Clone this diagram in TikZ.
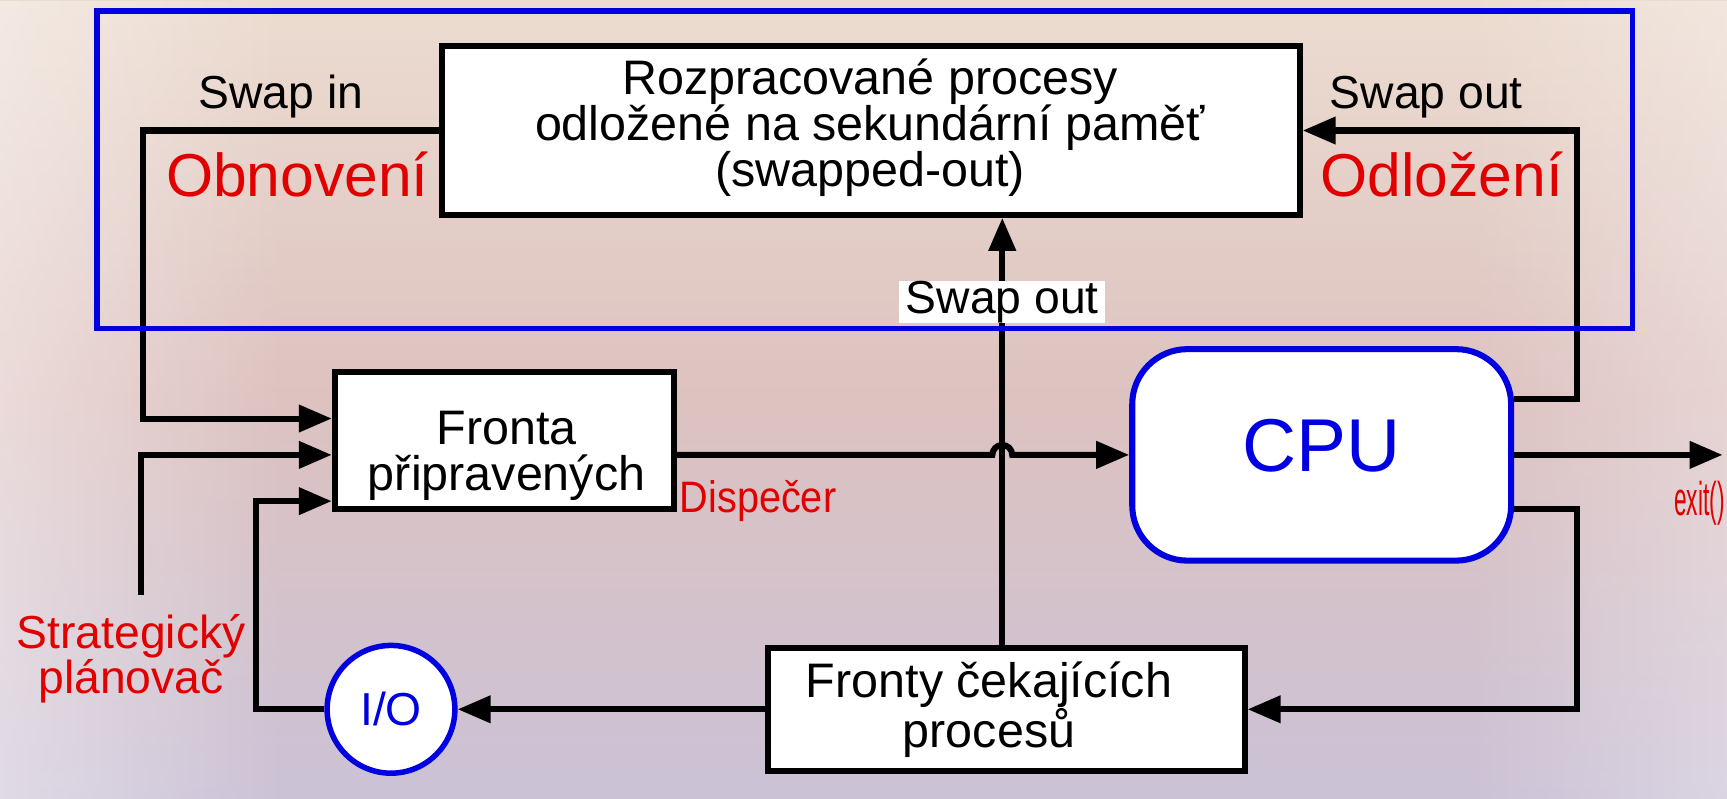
\documentclass[tikz,border=0pt]{standalone}
\usepackage{fontspec}
\setmainfont{Liberation Sans}
\usetikzlibrary{arrows.meta,fadings}
\definecolor{myred}{RGB}{225,0,0}
\definecolor{myblue}{RGB}{0,0,225}
\definecolor{bgtop}{RGB}{236,220,208}
\definecolor{bgmid}{RGB}{221,194,192}
\definecolor{bgbot}{RGB}{203,194,214}
\begin{document}
\begin{tikzpicture}[x=1pt,y=-1pt,
  arr/.style={line width=5.5pt,-{Triangle[length=30pt,width=24pt]}},
  boxshape/.style={draw=black,line width=5.5pt,fill=white,inner sep=0pt},
  boxtext/.style={inner sep=0pt,align=center,font=\fontsize{44}{42}\selectfont},
  lbl/.style={inner sep=0pt,font=\fontsize{42}{44}\selectfont},
  bigred/.style={inner sep=0pt,text=myred,font=\fontsize{55}{60}\selectfont},
  smallred/.style={inner sep=0pt,text=myred,align=center,font=\fontsize{40}{38}\selectfont},
]
\useasboundingbox (0,0) rectangle (1568,725);
\shade[top color=bgtop, bottom color=bgbot, middle color=bgmid] (0,0) rectangle (1568,725);
\fill[white,opacity=0.4,path fading=east] (0,0) rectangle (260,725);
\fill[white,opacity=0.3,path fading=west] (1330,0) rectangle (1568,725);

% boxes
\node[boxshape,minimum width=779pt,minimum height=153pt] (top) at (790.5,118.5) {};
\node[boxtext] (toptext) at (790,116) {Rozpracované procesy\\odložené na sekundární paměť\\(swapped-out)};
\node[boxshape,minimum width=308pt,minimum height=124pt] (fronta) at (458,400) {};
\node[boxtext] (frontatext) at (460,414) {Fronta\\připravených};
\node[boxshape,draw=myblue,rounded corners=50pt,minimum width=344pt,minimum height=192pt] (cpu) at (1200,413) {};
\node[inner sep=0pt,text=myblue,font=\fontsize{68}{70}\selectfont] (cputext) at (1200,405) {CPU};
\node[boxshape,minimum width=433pt,minimum height=112pt] (fronty) at (913.5,644) {};
\node[boxtext] (frontytext) at (898,644) {Fronty čekajících\\procesů};
\node[circle,draw=myblue,line width=5pt,fill=white,minimum size=116pt,inner sep=0pt,
      text=myblue,font=\fontsize{42}{42}\selectfont] (io) at (355,644) {I/O};

% helper coordinates
\coordinate (lx) at (130,0);
\coordinate (sx) at (128,540);
\coordinate (ix) at (232,0);
\coordinate (vx) at (910,0);
\coordinate (rx) at (1432,0);
\coordinate (exitpt) at (1564,413);

% connectors
\draw[arr] (top.west) -- (top.west -| lx) -- ([yshift=20pt]fronta.west -| lx) -- ([yshift=20pt]fronta.west);
\draw[arr] (sx) |- ([yshift=-13pt]fronta.west);
\draw[arr] (io.west) -| ([yshift=-55pt]fronta.west -| ix) -- ([yshift=-55pt]fronta.west);
\draw[arr] ([yshift=-13pt]fronta.east) -- ([xshift=-9pt]vx |- cpu.west)
   arc[start angle=180,end angle=0,radius=9pt] -- (cpu.west);
\draw[arr] (fronty.north -| vx) -- (top.south -| vx);
\draw[arr] ([yshift=51pt]cpu.east) -| (rx |- top.east) -- (top.east);
\draw[arr] (cpu.east) -- (exitpt);
\draw[arr] ([yshift=-49pt]cpu.east) -| (rx |- fronty.east) -- (fronty.east);
\draw[arr] (fronty.west) -- (io.east);

% frame
\draw[myblue,line width=4.8pt] (88,10) rectangle (1482,298);

% labels
\node[lbl,fill=white,inner xsep=6pt,minimum height=38pt] (swapoutmid) at (910,274) {Swap out};
\node[lbl] (swapin) at (255,88) {Swap in};
\node[lbl] (swapout) at (1295,88) {Swap out};
\node[bigred] (obnov) at (270,158) {Obnovení};
\node[bigred] (odloz) at (1309,158) {Odložení};
\node[smallred,anchor=west] (disp) at (617,455) {\scalebox{0.9}[1]{Dispečer}};
\node[smallred,anchor=east,font=\fontsize{43}{43}\selectfont] (exit) at (1566,457) {\scalebox{0.48}[1]{exit()}};
\node[smallred,font=\fontsize{42}{39}\selectfont] (strat) at (119,598) {Strategický\\plánovač};
\end{tikzpicture}
\end{document}
